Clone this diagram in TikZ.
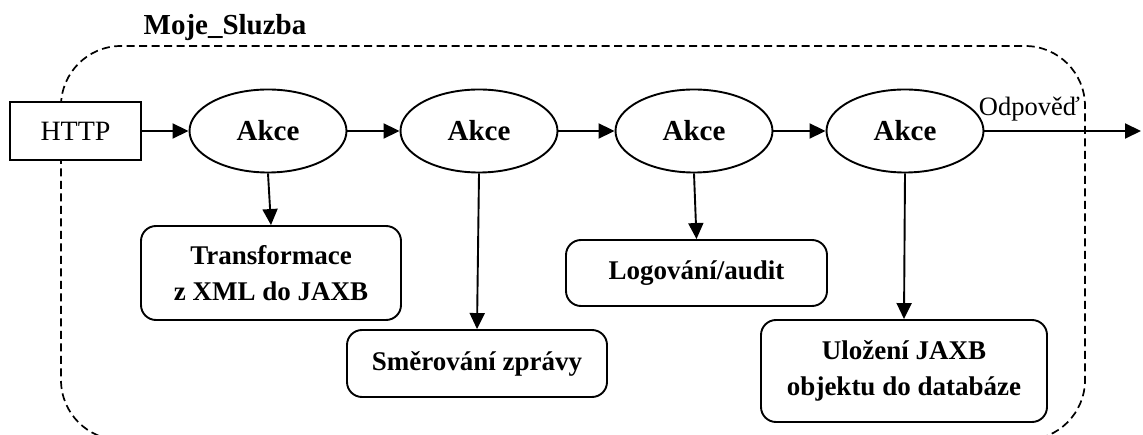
\documentclass[tikz,border=0pt]{standalone}
\usepackage{fontspec}
\setmainfont{Liberation Serif}
\usetikzlibrary{shapes.geometric,arrows.meta}
\begin{document}
\begin{tikzpicture}[x=1pt,y=-1pt,
  line width=1.9pt,
  tip/.style={-{Triangle[length=16pt,width=15pt]}},
  akce/.style={ellipse,draw,fill=white,inner sep=0pt,minimum width=157pt,minimum height=83pt,
    font=\fontsize{29}{34}\selectfont\bfseries},
  stepbox/.style={rectangle,draw,fill=white,rounded corners=15pt,inner sep=0pt,align=center,
    font=\fontsize{27}{36}\selectfont\bfseries},
  frame/.style={dashed,dash pattern=on 8pt off 4.5pt,line width=1.7pt}]
\useasboundingbox (0,0) rectangle (1143,435);
\clip (0,0) rectangle (1143,435);

% service boundary
\draw[frame,rounded corners=60pt] (61,46) rectangle (1085,440);
\node[font=\fontsize{29}{34}\selectfont\bfseries] (title) at (225,28) {Moje\_Sluzba};

% input
\node[rectangle,draw,fill=white,minimum width=131pt,minimum height=58pt,inner sep=0pt,
  font=\fontsize{28}{32}\selectfont] (http) at (75.5,131) {HTTP};

% pipeline of actions
\node[akce] (e1) at (268,131) {Akce};
\node[akce] (e2) at (479,131) {Akce};
\node[akce] (e3) at (694,131) {Akce};
\node[akce] (e4) at (905,131) {Akce};

% processing steps
\node[stepbox,minimum width=260pt,minimum height=94pt] (t) at (271,273)
  {Transformace\\z XML do JAXB};
\node[stepbox,minimum width=260pt,minimum height=67pt] (s) at (477,363.5)
  {Směrování zprávy};
\node[stepbox,minimum width=261pt,minimum height=66pt] (l) at (696.5,273)
  {Logování/audit};
\node[stepbox,minimum width=286pt,minimum height=102pt] (u) at (904,371)
  {Uložení JAXB\\objektu do databáze};

\coordinate (out) at (1141,131);

\draw[tip] (http) -- (e1);
\draw[tip] (e1) -- (e2);
\draw[tip] (e2) -- (e3);
\draw[tip] (e3) -- (e4);
\draw[tip] (e4) -- (out);

\draw[tip] (e1.south) -- (t.north);
\draw[tip] (e2.south) -- (s.north);
\draw[tip] (e3.south) -- (l.north);
\draw[tip] (e4.south) -- (u.north);

\node[anchor=base west,inner sep=0pt,font=\fontsize{26.5}{32}\selectfont] (odp) at (978,116) {Odpověď};
\end{tikzpicture}
\end{document}
